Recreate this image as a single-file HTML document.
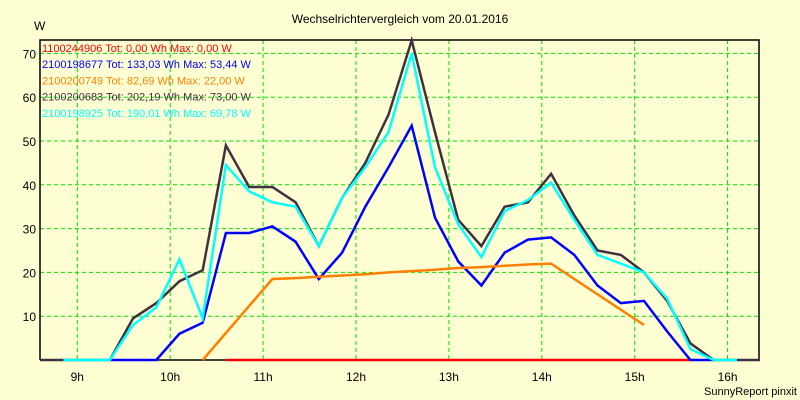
<!DOCTYPE html>
<html><head><meta charset="utf-8"><style>
body{margin:0;background:#ffffd4;}
svg{display:block;font-family:"Liberation Sans",sans-serif;}
</style></head><body>
<svg width="800" height="400">
<rect width="800" height="400" fill="#ffffd4"/>
<text x="400" y="23" font-size="12" text-anchor="middle">Wechselrichtervergleich vom 20.01.2016</text>
<text x="34" y="30" font-size="12">W</text>
<text x="797" y="395" font-size="11" text-anchor="end">SunnyReport pinxit</text>
<g id="grid"></g>
<g id="axes"></g>
<g id="series"></g>
<g id="legend"></g>
</svg>
<script>
const hourTicks=[9,10,11,12,13,14,15,16];
const yTicks=[10,20,30,40,50,60,70];
const startHour=8.6, stepHours=0.25;
const names=["1100244906","2100198677","2100200749","2100200683","2100198925"];
const totals=["0,00","133,03","82,69","202,19","190,01"];
const maxes=["0,00","53,44","22,00","73,00","69,78"];
const colors=["#ff0000","#0000ff","#ff8000","#403040","#00ffff"];
const s1100244906=[null,null,null,null,null,null,null,null,0,0,0,0,0,0,0,0,0,0,0,0,0,0,0,0,0,0,0,0,0,null,null,null];
const s2100198677=[null,null,null,0,0,0,6,8.5,29,29,30.5,27,18.5,24.5,35,44,53.5,32.5,22.5,17,24.5,27.5,28,24,17,13,13.5,6.5,0,0,null,null];
const s2100200749=[null,null,null,null,null,null,null,0,null,null,18.5,18.7,19,19.3,19.6,20,20.3,20.6,21,21.2,21.5,21.8,22,null,null,null,8,null,null,null,null,null];
const s2100200683=[0,0,0,0,9.5,13,18,20.5,49,39.5,39.5,36,26,37,45,56,73,52,32,26,35,36,42.5,33,25,24,20,13.5,3.8,0,0,0];
const s2100198925=[null,0,0,0,8,12,23,9.5,44.5,38.5,36,35,26,37,44,52,70,44,31,23.5,34,36.5,40.5,32,24,22,20,14,2.5,0,0,null];
const seriesData=[s1100244906,s2100198677,s2100200749,s2100200683,s2100198925];

const L=40,R=759,T=40,B=360;
const xScale=h=>77.3+(h-9)*92.9;
const yScale=v=>B-v*4.38;
const NS="http://www.w3.org/2000/svg";
function mk(tag,attrs,parent){const e=document.createElementNS(NS,tag);for(const k in attrs)e.setAttribute(k,attrs[k]);parent.appendChild(e);return e;}
const grid=document.getElementById('grid'),axes=document.getElementById('axes'),ser=document.getElementById('series'),leg=document.getElementById('legend');
hourTicks.forEach(h=>{const x=xScale(h);
 const l=mk('line',{x1:x,x2:x,y1:T,y2:B,stroke:'#00e000','stroke-dasharray':'4,3'},grid);
 
 
 const t=mk('text',{x:x,y:B+21,'font-size':12,'text-anchor':'middle'},axes);t.textContent=h+'h';
 
 
});
yTicks.forEach(v=>{const y=yScale(v);
 const l=mk('line',{x1:L,x2:R,y1:y,y2:y,stroke:'#00e000','stroke-dasharray':'4,3'},grid);
 
 
 const t=mk('text',{x:L-4,y:y+5,'font-size':12,'text-anchor':'end'},axes);t.textContent=v;
 
 
});
const frame=mk('path',{d:`M${L},${B}V${T}H${R}V${B}H${L}`,fill:'none',stroke:'#000','stroke-width':1.5},axes);


seriesData.forEach((arr,si)=>{
 const pts=[];arr.forEach((v,i)=>{if(v!==null)pts.push(xScale(startHour+i*stepHours).toFixed(1)+','+yScale(v).toFixed(1));});
 const p=mk('polyline',{points:pts.join(' '),fill:'none',stroke:colors[si],'stroke-width':2.5,'stroke-linejoin':'miter'},ser);
 
 
});
names.forEach((n,i)=>{
 const t=mk('text',{x:42,y:52+i*16.2,'font-size':11,fill:colors[i]},leg);
 t.textContent=n+' Tot: '+totals[i]+' Wh Max: '+maxes[i]+' W';
 
 
});
</script>
</body></html>
